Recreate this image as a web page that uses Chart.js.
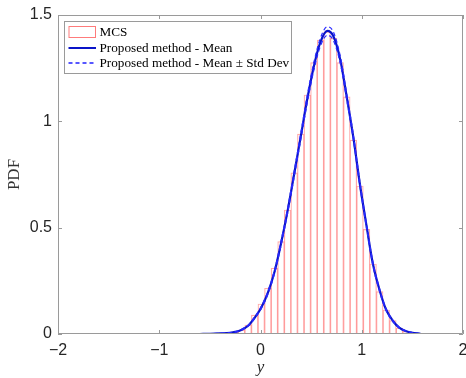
<!DOCTYPE html>
<html>
<head>
<meta charset="utf-8">
<script src="https://cdn.jsdelivr.net/npm/chart.js@4.4.1/dist/chart.umd.min.js"></script>
<style>
  html, body { margin: 0; padding: 0; background: #ffffff; }
  #wrap { width: 466px; height: 378px; }
</style>
</head>
<body>
<div id="wrap"><canvas id="c" width="466" height="378"></canvas></div>
<script>
// ---- Data ----
// Histogram (MCS) bin centres and PDF heights
const binCenters = [
  -1.2925, -1.2275, -1.1625, -1.0975, -1.0325, -0.9675, -0.9025, -0.8375, -0.7725, -0.7075,
  -0.6425, -0.5775, -0.5125, -0.4475, -0.3825, -0.3175, -0.2525, -0.1875, -0.1225, -0.0575,
   0.0075,  0.0725,  0.1375,  0.2025,  0.2675,  0.3325,  0.3975,  0.4625,  0.5275,  0.5925,
   0.6575,  0.7225,  0.7875,  0.8525,  0.9175,  0.9825,  1.0475,  1.1125,  1.1775,  1.2425,
   1.3075,  1.3725,  1.4375,  1.5025,  1.5675,  1.6325,  1.6975,  1.7625,  1.8275,  1.8925
];
const mcsPdf = [
  0.003, 0.003, 0.003, 0.003, 0.003, 0.003, 0.003, 0.003, 0.003, 0.000,
  0.000, 0.001, 0.002, 0.002, 0.003, 0.005, 0.008, 0.018, 0.042, 0.089,
  0.141, 0.215, 0.309, 0.434, 0.583, 0.758, 0.940, 1.124, 1.276, 1.382,
  1.421, 1.390, 1.276, 1.115, 0.912, 0.696, 0.492, 0.329, 0.199, 0.113,
  0.063, 0.027, 0.012, 0.005, 0.003, 0.000, 0.003, 0.003, 0.003, 0.003
];
// Proposed method curves
const curveX = [
  -0.60, -0.50, -0.40, -0.30, -0.25, -0.19, -0.12, -0.06, 0.00, 0.07, 0.14,
   0.20,  0.27,  0.33,  0.40,  0.46,  0.53,  0.59,  0.66, 0.72, 0.79, 0.85,
   0.92,  0.98,  1.05,  1.11,  1.18,  1.24,  1.31,  1.37, 1.44, 1.50, 1.58
];
const meanPdf = [
  0.000, 0.001, 0.003, 0.006, 0.010, 0.019, 0.040, 0.075, 0.118, 0.190, 0.295,
  0.420, 0.585, 0.745, 0.935, 1.100, 1.265, 1.370, 1.425, 1.400, 1.285, 1.120,
  0.915, 0.710, 0.500, 0.330, 0.200, 0.115, 0.060, 0.030, 0.013, 0.006, 0.001
];
const upperPdf = [
  0.000, 0.001, 0.004, 0.007, 0.011, 0.021, 0.043, 0.079, 0.123, 0.197, 0.303,
  0.430, 0.596, 0.758, 0.950, 1.118, 1.283, 1.389, 1.445, 1.420, 1.302, 1.134,
  0.926, 0.720, 0.508, 0.338, 0.206, 0.119, 0.063, 0.032, 0.014, 0.007, 0.001
];
const lowerPdf = [
  0.000, 0.001, 0.002, 0.005, 0.009, 0.017, 0.037, 0.071, 0.113, 0.183, 0.287,
  0.410, 0.574, 0.732, 0.920, 1.082, 1.247, 1.351, 1.405, 1.380, 1.268, 1.106,
  0.904, 0.700, 0.492, 0.322, 0.194, 0.111, 0.057, 0.028, 0.012, 0.005, 0.001
];
const xTickValues = [-2, -1, 0, 1, 2];
const yTickValues = [0, 0.5, 1, 1.5];
const labels = ['MCS', 'Proposed method - Mean', 'Proposed method - Mean \u00b1 Std Dev'];

// ---- Build library data ----
const pts = (xs, ys) => xs.map((x, i) => ({ x: x, y: ys[i] }));

const AXIS_COLOR = '#9a9a9a';
const TEXT_COLOR = '#262626';

// inward ticks + box frame + legend, using the library scales
const framePlugin = {
  id: 'frame',
  afterDatasetsDraw(chart) {
    const { ctx, chartArea: a, scales } = chart;
    ctx.save();
    ctx.strokeStyle = AXIS_COLOR;
    ctx.lineWidth = 1;
    ctx.beginPath();
    ctx.rect(Math.round(a.left) + 0.5, Math.round(a.top) + 0.5,
             Math.round(a.right - a.left) - 1, Math.round(a.bottom - a.top) - 1);
    ctx.stroke();
    const L = 4;
    ctx.beginPath();
    scales.x.ticks.forEach(t => {
      const px = Math.round(scales.x.getPixelForValue(t.value)) + 0.5;
      ctx.moveTo(px, a.bottom); ctx.lineTo(px, a.bottom - L);
      ctx.moveTo(px, a.top); ctx.lineTo(px, a.top + L);
    });
    scales.y.ticks.forEach(t => {
      const py = Math.round(scales.y.getPixelForValue(t.value)) + 0.5;
      ctx.moveTo(a.left, py); ctx.lineTo(a.left + L, py);
      ctx.moveTo(a.right, py); ctx.lineTo(a.right - L, py);
    });
    ctx.stroke();
    ctx.restore();
  },
  afterDraw(chart) {
    const { ctx, chartArea: a } = chart;
    const ds = chart.data.datasets.filter(d => !d.hideInLegend);
    const bx = a.left + 6, by = a.top + 6, bw = 227, bh = 52;
    ctx.save();
    ctx.fillStyle = '#ffffff';
    ctx.fillRect(bx, by, bw, bh);
    ctx.strokeStyle = AXIS_COLOR;
    ctx.lineWidth = 1;
    ctx.strokeRect(Math.round(bx) + 0.5, Math.round(by) + 0.5, bw, bh);
    ctx.font = '13.2px "Liberation Serif", "Times New Roman", serif';
    ctx.textBaseline = 'middle';
    ds.forEach((d, i) => {
      const cy = Math.round(by + 11 + i * 15.5);
      const sx = bx + 4.5, ex = bx + 32;
      if (d.type === 'line') {
        ctx.strokeStyle = d.legendColor || d.borderColor;
        ctx.lineWidth = d.borderDash ? 1.5 : 2;
        ctx.setLineDash(d.borderDash || []);
        ctx.beginPath();
        ctx.moveTo(sx, cy); ctx.lineTo(ex, cy);
        ctx.stroke();
        ctx.setLineDash([]);
      } else {
        ctx.strokeStyle = 'rgba(255,90,90,0.8)';
        ctx.lineWidth = 1;
        ctx.strokeRect(sx + 0.5, cy - 5.5, ex - sx - 1, 11);
      }
      ctx.fillStyle = '#000000';
      ctx.fillText(d.label, bx + 35.5, cy + 0.5);
    });
    ctx.restore();
  }
};

new Chart(document.getElementById('c'), {
  type: 'bar',
  data: {
    datasets: [
      {
        type: 'bar', label: labels[0], data: pts(binCenters, mcsPdf),
        backgroundColor: 'rgba(255,255,255,0)', borderColor: 'rgba(255,100,100,0.55)',
        borderWidth: 0.5, borderSkipped: false,
        barPercentage: 1, categoryPercentage: 1, grouped: false, order: 3
      },
      {
        type: 'line', label: labels[1], data: pts(curveX, meanPdf),
        borderColor: '#0a14c8', borderWidth: 2.2,
        pointRadius: 0, cubicInterpolationMode: 'monotone', fill: false, order: 2
      },
      {
        type: 'line', label: labels[2], data: pts(curveX, upperPdf),
        borderColor: '#2a2aff', legendColor: '#1f1fff', borderWidth: 1.2, borderDash: [4, 3],
        pointRadius: 0, cubicInterpolationMode: 'monotone', fill: false, order: 1
      },
      {
        type: 'line', label: labels[2], data: pts(curveX, lowerPdf), hideInLegend: true,
        borderColor: '#2a2aff', borderWidth: 1.2, borderDash: [4, 3],
        pointRadius: 0, cubicInterpolationMode: 'monotone', fill: false, order: 1
      }
    ]
  },
  options: {
    responsive: false,
    animation: false,
    devicePixelRatio: 1,
    layout: { padding: { top: 15, right: 3, left: 0, bottom: 0 } },
    plugins: { legend: { display: false }, tooltip: { enabled: false } },
    scales: {
      x: {
        type: 'linear', min: -2, max: 2, offset: false,
        afterFit: s => { s.height = 44; s.paddingLeft = 0; s.paddingRight = 0; },
        afterBuildTicks: s => { s.ticks = xTickValues.map(v => ({ value: v })); },
        grid: { display: false, drawTicks: false, offset: false },
        border: { display: false },
        ticks: {
          padding: 7, color: TEXT_COLOR,
          font: { family: '"Liberation Sans", Arial, sans-serif', size: 16 },
          callback: v => String(v).replace('-', '\u2212')
        },
        title: {
          display: true, text: 'y', color: TEXT_COLOR,
          font: { family: '"Liberation Serif", "Times New Roman", serif', size: 17, style: 'italic' },
          padding: { top: 0, bottom: 0 }
        }
      },
      y: {
        type: 'linear', min: 0, max: 1.5,
        afterFit: s => { s.width = 58; s.paddingTop = 0; s.paddingBottom = 0; },
        afterBuildTicks: s => { s.ticks = yTickValues.map(v => ({ value: v })); },
        grid: { display: false, drawTicks: false },
        border: { display: false },
        ticks: {
          padding: 6, color: TEXT_COLOR,
          font: { family: '"Liberation Sans", Arial, sans-serif', size: 16 },
          callback: v => String(v)
        },
        title: {
          display: true, text: 'PDF', color: '#333333',
          font: { family: '"Liberation Serif", "Times New Roman", serif', size: 17 },
          padding: { top: 4, bottom: 0 }
        }
      }
    }
  },
  plugins: [framePlugin]
});
</script>
</body>
</html>
